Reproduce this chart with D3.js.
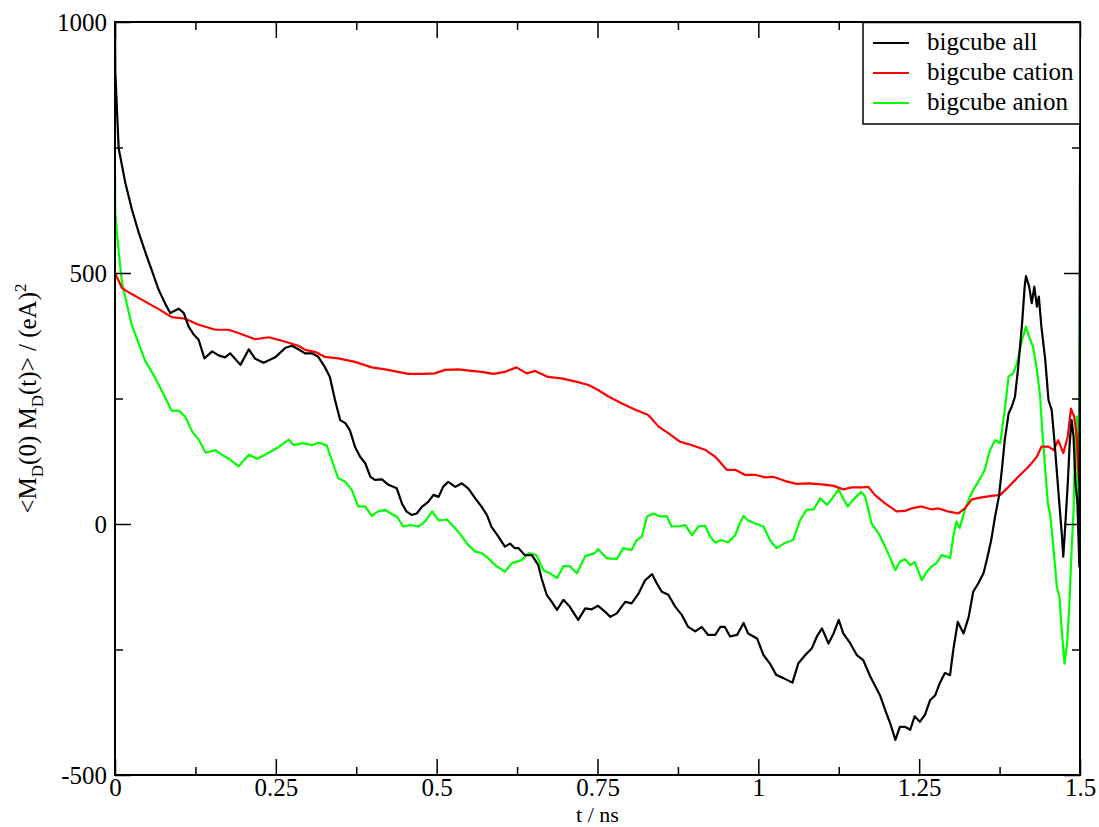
<!DOCTYPE html>
<html>
<head>
<meta charset="utf-8">
<script src="https://cdn.jsdelivr.net/npm/d3@7"></script>
<style>
  html, body { margin: 0; padding: 0; background: #fff; }
  svg text { font-family: "Liberation Serif", "DejaVu Serif", serif; }
</style>
</head>
<body>
<svg id="chart" width="1099" height="827"></svg>
<script>
// ---- data (t in ns, value in (eA)^2) ----
const seriesNames = ["bigcube all", "bigcube cation", "bigcube anion"];
const seriesColors = ["#000000", "#ff0000", "#00ff00"];
const xTicks = [0, 0.25, 0.5, 0.75, 1, 1.25, 1.5];
const xTickLabels = ["0", "0.25", "0.5", "0.75", "1", "1.25", "1.5"];
const yTicks = [-500, 0, 500, 1000];
const yTickLabels = ["-500", "0", "500", "1000"];

const dataAll = [[0,1000],[0.0005,901],[0.0057,748],[0.016,680],[0.0264,626],[0.037,580],[0.047,542],[0.0575,504],[0.068,466],[0.078,439],[0.086,420],[0.0912,424],[0.099,429],[0.107,420],[0.1145,393],[0.122,378],[0.13,367],[0.139,330],[0.151,344],[0.161,336],[0.171,332],[0.179,340],[0.195,317],[0.208,348],[0.218,329],[0.231,321],[0.249,332],[0.265,351],[0.275,355],[0.285,348],[0.2953,340],[0.306,340],[0.316,333],[0.326,313],[0.334,293],[0.342,247],[0.350,207],[0.358,201],[0.365,187],[0.373,154],[0.381,134],[0.389,121],[0.397,94],[0.404,88],[0.415,89],[0.425,78],[0.438,71],[0.446,41],[0.453,25],[0.461,18],[0.469,21],[0.477,34],[0.487,44],[0.495,58],[0.503,54],[0.510,74],[0.518,84],[0.529,74],[0.539,81],[0.549,71],[0.560,51],[0.570,34],[0.578,18],[0.585,-5],[0.596,-25],[0.606,-45],[0.614,-39],[0.621,-48],[0.627,-48],[0.637,-62],[0.648,-62],[0.658,-82],[0.663,-108],[0.671,-141],[0.679,-155],[0.687,-171],[0.697,-151],[0.707,-165],[0.720,-191],[0.731,-168],[0.741,-170],[0.751,-163],[0.762,-175],[0.770,-185],[0.780,-178],[0.793,-155],[0.803,-158],[0.814,-138],[0.824,-112],[0.835,-100],[0.842,-118],[0.850,-135],[0.860,-141],[0.871,-165],[0.881,-181],[0.891,-205],[0.902,-214],[0.912,-205],[0.922,-221],[0.933,-221],[0.941,-205],[0.948,-205],[0.956,-224],[0.967,-221],[0.977,-197],[0.984,-218],[0.998,-228],[1.008,-261],[1.018,-278],[1.028,-301],[1.039,-307],[1.053,-316],[1.062,-278],[1.073,-261],[1.083,-248],[1.091,-224],[1.099,-208],[1.109,-238],[1.117,-218],[1.125,-191],[1.132,-218],[1.143,-238],[1.153,-261],[1.163,-271],[1.174,-304],[1.181,-321],[1.189,-341],[1.197,-370],[1.205,-397],[1.213,-430],[1.220,-404],[1.228,-404],[1.236,-410],[1.243,-383],[1.251,-394],[1.259,-380],[1.267,-351],[1.275,-341],[1.282,-317],[1.290,-297],[1.298,-301],[1.303,-251],[1.310,-195],[1.319,-218],[1.327,-185],[1.334,-135],[1.342,-118],[1.350,-98],[1.355,-72],[1.362,-32],[1.368,15],[1.374,55],[1.379,114],[1.383,167],[1.389,220],[1.394,234],[1.399,254],[1.404,313],[1.410,400],[1.414,473],[1.416,494],[1.421,473],[1.425,440],[1.429,473],[1.433,433],[1.436,453],[1.440,393],[1.446,327],[1.451,247],[1.456,227],[1.461,154],[1.467,55],[1.472,-25],[1.474,-65],[1.477,-5],[1.481,81],[1.484,161],[1.487,207],[1.490,174],[1.493,81],[1.496,41],[1.499,-85],[1.5,700]];

const dataCation = [[0,500],[0.0109,470],[0.026,458],[0.047,443],[0.068,428],[0.088,412],[0.109,409],[0.13,397],[0.156,387],[0.177,387],[0.197,378],[0.218,368],[0.239,372],[0.265,363],[0.285,355],[0.2953,347],[0.311,343],[0.326,333],[0.347,330],[0.373,323],[0.399,312],[0.420,308],[0.440,303],[0.456,299],[0.477,299],[0.497,300],[0.513,307],[0.534,308],[0.554,305],[0.570,303],[0.588,299],[0.606,303],[0.624,312],[0.640,300],[0.653,305],[0.673,293],[0.694,290],[0.715,284],[0.736,277],[0.751,267],[0.767,254],[0.788,240],[0.808,228],[0.829,217],[0.845,194],[0.860,181],[0.878,164],[0.897,157],[0.917,148],[0.933,134],[0.951,108],[0.964,108],[0.979,98],[0.995,98],[1.01,93],[1.023,94],[1.041,86],[1.059,80],[1.078,81],[1.099,79],[1.117,76],[1.132,69],[1.145,73],[1.161,73],[1.171,74],[1.181,58],[1.197,41],[1.215,25],[1.228,26],[1.238,31],[1.254,35],[1.269,29],[1.280,31],[1.295,25],[1.311,21],[1.321,31],[1.332,49],[1.347,53],[1.363,56],[1.376,58],[1.389,74],[1.404,94],[1.420,114],[1.433,134],[1.440,154],[1.451,154],[1.459,147],[1.466,167],[1.474,141],[1.481,174],[1.486,230],[1.491,214],[1.495,174],[1.497,114],[1.499,81]];

const dataAnion = [[0,705],[0.0005,618],[0.0057,542],[0.0109,481],[0.016,451],[0.026,397],[0.037,359],[0.047,325],[0.063,290],[0.078,252],[0.088,226],[0.099,226],[0.109,214],[0.12,184],[0.13,168],[0.141,142],[0.156,147],[0.166,138],[0.177,130],[0.192,115],[0.208,138],[0.221,130],[0.239,142],[0.254,153],[0.27,168],[0.278,157],[0.291,161],[0.306,157],[0.316,162],[0.329,157],[0.337,127],[0.347,91],[0.358,84],[0.368,68],[0.378,35],[0.389,35],[0.399,16],[0.409,25],[0.420,28],[0.430,20],[0.438,15],[0.448,-5],[0.459,-2],[0.472,-5],[0.482,5],[0.493,25],[0.503,7],[0.516,9],[0.526,-5],[0.536,-19],[0.549,-42],[0.560,-55],[0.570,-58],[0.580,-68],[0.591,-82],[0.606,-95],[0.617,-78],[0.632,-72],[0.643,-58],[0.655,-62],[0.666,-92],[0.676,-98],[0.687,-108],[0.697,-84],[0.707,-84],[0.718,-98],[0.731,-64],[0.746,-58],[0.751,-50],[0.764,-68],[0.780,-70],[0.790,-48],[0.803,-52],[0.811,-32],[0.819,-25],[0.827,15],[0.837,21],[0.847,15],[0.858,15],[0.865,-5],[0.876,-5],[0.886,-2],[0.897,-22],[0.907,-5],[0.917,-3],[0.925,-25],[0.933,-37],[0.943,-32],[0.953,-37],[0.964,-22],[0.971,1],[0.977,16],[0.984,7],[0.995,1],[1.008,-5],[1.018,-32],[1.028,-48],[1.041,-38],[1.054,-32],[1.065,8],[1.075,28],[1.086,29],[1.096,51],[1.107,38],[1.117,55],[1.125,69],[1.130,55],[1.139,35],[1.148,49],[1.160,64],[1.166,55],[1.176,1],[1.187,-19],[1.197,-45],[1.205,-68],[1.213,-92],[1.220,-75],[1.228,-70],[1.236,-82],[1.243,-76],[1.248,-92],[1.254,-112],[1.262,-95],[1.269,-85],[1.277,-78],[1.285,-62],[1.293,-65],[1.298,-68],[1.303,-25],[1.308,5],[1.313,-8],[1.321,28],[1.329,55],[1.337,74],[1.345,91],[1.352,108],[1.360,147],[1.368,167],[1.376,161],[1.383,227],[1.389,294],[1.396,300],[1.402,320],[1.410,367],[1.416,393],[1.421,373],[1.427,353],[1.433,307],[1.438,254],[1.442,174],[1.446,108],[1.450,41],[1.454,15],[1.459,-52],[1.464,-125],[1.468,-145],[1.472,-218],[1.476,-278],[1.480,-238],[1.483,-171],[1.487,-52],[1.490,28],[1.492,134],[1.495,214],[1.497,15],[1.499,181],[1.5,520]];

const seriesData = [dataAll, dataCation, dataAnion];

// ---- layout ----
const margin = { left: 115, top: 22, right: 1080, bottom: 775 };
const svg = d3.select("#chart");

const x = d3.scaleLinear().domain([0, 1.5]).range([margin.left, margin.right]);
const y = d3.scaleLinear().domain([-500, 1000]).range([margin.bottom, margin.top]);

const fontSize = 25;
const FONT = '"Liberation Serif", "Times New Roman", serif';
const majorLen = 16, minorLen = 8;

svg.append("defs").append("clipPath").attr("id", "clip")
  .append("rect").attr("x", margin.left).attr("y", margin.top)
  .attr("width", margin.right - margin.left).attr("height", margin.bottom - margin.top);

const line = d3.line().x(d => x(d[0])).y(d => y(d[1]));
const drawOrder = [2, 1, 0];
drawOrder.forEach(i => {
  svg.append("path")
    .attr("d", line(seriesData[i]))
    .attr("fill", "none")
    .attr("stroke", seriesColors[i])
    .attr("stroke-width", 2.2)
    .attr("stroke-linejoin", "round")
    .attr("clip-path", "url(#clip)");
});

const xMinor = d3.range(0.125, 1.5, 0.25);
const yMinor = [-250, 250, 750];

const axB = d3.axisBottom(x).tickValues(xTicks).tickSize(-majorLen).tickFormat((d, i) => xTickLabels[i]);
const axT = d3.axisTop(x).tickValues(xTicks).tickSize(-majorLen).tickFormat("");
const axL = d3.axisLeft(y).tickValues(yTicks).tickSize(-majorLen).tickFormat((d, i) => yTickLabels[i]);
const axR = d3.axisRight(y).tickValues(yTicks).tickSize(-majorLen).tickFormat("");

function styleAxis(g) {
  g.select(".domain").remove();
  g.selectAll(".tick line").attr("stroke", "#000").attr("stroke-width", 1.5);
  g.selectAll(".tick text").attr("fill", "#000").style("font-size", fontSize + "px")
    .style("font-family", FONT);
}

const gB = svg.append("g").attr("transform", `translate(0,${margin.bottom})`).call(axB).call(styleAxis);
gB.selectAll(".tick text").attr("dy", null).attr("y", 21);
svg.append("g").attr("transform", `translate(0,${margin.top})`).call(axT).call(styleAxis);
const gL = svg.append("g").attr("transform", `translate(${margin.left},0)`).call(axL).call(styleAxis);
gL.selectAll(".tick text").attr("x", -8).attr("dy", "0.33em");
svg.append("g").attr("transform", `translate(${margin.right},0)`).call(axR).call(styleAxis);

const minorB = d3.axisBottom(x).tickValues(xMinor).tickSize(-minorLen).tickFormat("");
const minorT = d3.axisTop(x).tickValues(xMinor).tickSize(-minorLen).tickFormat("");
const minorL = d3.axisLeft(y).tickValues(yMinor).tickSize(-minorLen).tickFormat("");
const minorR = d3.axisRight(y).tickValues(yMinor).tickSize(-minorLen).tickFormat("");
svg.append("g").attr("transform", `translate(0,${margin.bottom})`).call(minorB).call(styleAxis);
svg.append("g").attr("transform", `translate(0,${margin.top})`).call(minorT).call(styleAxis);
svg.append("g").attr("transform", `translate(${margin.left},0)`).call(minorL).call(styleAxis);
svg.append("g").attr("transform", `translate(${margin.right},0)`).call(minorR).call(styleAxis);

svg.append("rect")
  .attr("x", margin.left).attr("y", margin.top)
  .attr("width", margin.right - margin.left).attr("height", margin.bottom - margin.top)
  .attr("fill", "none").attr("stroke", "#000").attr("stroke-width", 2);

// x label
svg.append("text")
  .attr("x", (margin.left + margin.right) / 2).attr("y", 822)
  .attr("text-anchor", "middle").style("font-size", "22px").style("font-family", FONT)
  .text("t / ns");

// y label with sub/superscripts
const yl = svg.append("text")
  .attr("transform", `translate(36,${(margin.top + margin.bottom) / 2}) rotate(-90)`)
  .attr("text-anchor", "middle").style("font-size", fontSize + "px").style("font-family", FONT);
yl.append("tspan").text("<M");
yl.append("tspan").attr("dy", 7).style("font-size", "17px").text("D");
yl.append("tspan").attr("dy", -7).text("(0) M");
yl.append("tspan").attr("dy", 7).style("font-size", "17px").text("D");
yl.append("tspan").attr("dy", -7).text("(t)> / (eA)");
yl.append("tspan").attr("dy", -10).style("font-size", "17px").text("2");

// legend
const lg = svg.append("g");
lg.append("rect").attr("x", 863).attr("y", 22.5).attr("width", 1080 - 863).attr("height", 124 - 22.5)
  .attr("fill", "#fff").attr("stroke", "#000").attr("stroke-width", 1.5);
seriesNames.forEach((name, i) => {
  const cy = 43 + i * 30;
  lg.append("line").attr("x1", 873).attr("x2", 909).attr("y1", cy).attr("y2", cy)
    .attr("stroke", seriesColors[i]).attr("stroke-width", 2);
  lg.append("text").attr("x", 927).attr("y", cy + 7).style("font-size", fontSize + "px")
    .style("font-family", FONT).attr("fill", "#000").text(name);
});
</script>
</body>
</html>
